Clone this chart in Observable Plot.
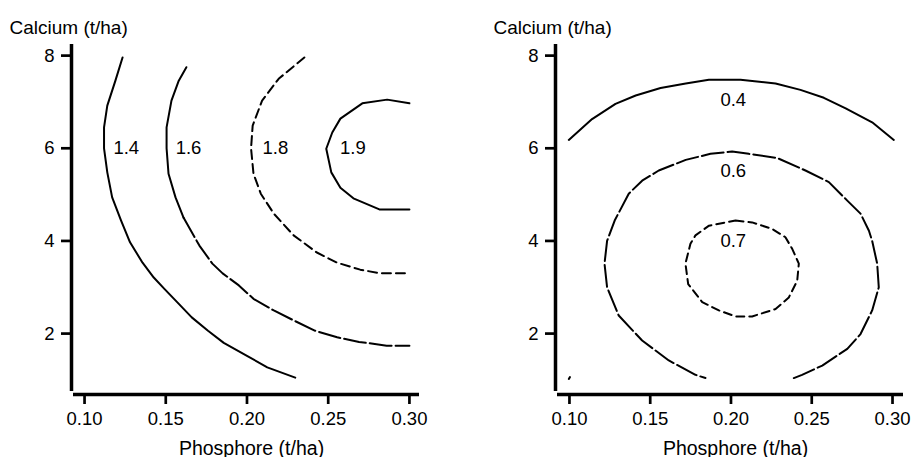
<!DOCTYPE html>
<html>
<head>
<meta charset="utf-8">
<script src="https://cdn.jsdelivr.net/npm/d3@7"></script>
<script src="https://cdn.jsdelivr.net/npm/@observablehq/plot@0.6"></script>
<style>
  html, body { margin: 0; padding: 0; background: #fff; }
  #wrap { display: flex; width: 911px; height: 457px; }
  #wrap svg { display: block; }
</style>
</head>
<body>
<div id="wrap"></div>
<script>
// ---- tick labels / axis titles ----
const xTicks = [0.10, 0.15, 0.20, 0.25, 0.30];
const yTicks = [2, 4, 6, 8];
const xTitle = "Phosphore (t/ha)";
const yTitle = "Calcium (t/ha)";

// ---- left panel contours: [phosphore, calcium] ----
const left14 = [[0.1234,7.96],[0.119,7.46],[0.114,6.92],[0.112,6.45],[0.112,6.0],[0.114,5.48],[0.117,4.94],[0.1225,4.44],[0.128,3.97],[0.1357,3.53],[0.1426,3.21],[0.149,2.97],[0.157,2.68],[0.166,2.35],[0.176,2.06],[0.1857,1.8],[0.200,1.52],[0.2125,1.27],[0.2297,1.05]];
const left16a = [[0.1627,7.75],[0.158,7.46],[0.1535,7.03],[0.1505,6.45],[0.1505,6.0],[0.1517,5.45],[0.156,4.94],[0.161,4.5]];
const left16b = [[0.161,4.5],[0.1707,3.9],[0.1787,3.51],[0.185,3.3],[0.195,3.04],[0.204,2.75],[0.2165,2.5],[0.229,2.28],[0.242,2.06],[0.2555,1.92],[0.269,1.82],[0.286,1.74],[0.300,1.74]];
const left18 = [[0.2353,7.96],[0.2195,7.5],[0.2093,7.03],[0.2035,6.49],[0.2025,6.0],[0.204,5.45],[0.2085,5.02],[0.2165,4.59],[0.2287,4.12],[0.243,3.75],[0.2555,3.53],[0.2697,3.38],[0.282,3.3],[0.300,3.3]];
const left19 = [[0.300,6.97],[0.2863,7.05],[0.271,6.97],[0.2575,6.64],[0.2525,6.34],[0.2488,5.99],[0.2519,5.48],[0.2575,5.15],[0.2655,4.92],[0.2815,4.68],[0.300,4.68]];
const leftLabels = ["1.4", "1.6", "1.8", "1.9"];
const leftLabelX = [0.1257, 0.164, 0.2175, 0.2652];
const leftLabelY = [6.0, 6.0, 6.0, 6.0];

// ---- right panel contours ----
const right04 = [[0.0996,6.18],[0.114,6.63],[0.1285,6.96],[0.141,7.14],[0.1564,7.3],[0.172,7.4],[0.1863,7.48],[0.2059,7.48],[0.2276,7.4],[0.243,7.26],[0.2575,7.09],[0.271,6.86],[0.2874,6.56],[0.3008,6.18]];
const right06 = [[0.2389,1.04],[0.244,1.11],[0.2565,1.31],[0.272,1.67],[0.2802,1.99],[0.2874,2.5],[0.2915,3.0],[0.2905,3.51],[0.2874,4.0],[0.2854,4.22],[0.2802,4.59],[0.272,4.87],[0.2606,5.27],[0.2461,5.52],[0.2286,5.79],[0.211,5.88],[0.2007,5.93],[0.1873,5.88],[0.172,5.75],[0.1553,5.52],[0.145,5.30],[0.1367,5.02],[0.128,4.44],[0.1233,4.0],[0.1217,3.51],[0.1233,3.0],[0.1305,2.39],[0.145,1.85],[0.1615,1.42],[0.178,1.11],[0.1842,1.04]];
const right06corner = [[0.0996,1.02],[0.1003,1.06]];
const right07 = [[0.2028,4.44],[0.2131,4.40],[0.2255,4.26],[0.2337,4.08],[0.2379,3.83],[0.242,3.51],[0.241,3.14],[0.2358,2.78],[0.2276,2.53],[0.2131,2.37],[0.2028,2.37],[0.1925,2.5],[0.1822,2.68],[0.1735,3.07],[0.1718,3.51],[0.1749,3.94],[0.178,4.12],[0.1864,4.33],[0.2028,4.44]];
const rightLabels = ["0.4", "0.6", "0.7"];
const rightLabelX = [0.2014, 0.2014, 0.2014];
const rightLabelY = [7.05, 5.51, 3.99];

const yDomain = [0.75, 8.24];
const FONT = "'Liberation Sans', Arial, Helvetica, sans-serif";

function panel({width, marginLeft, marginRight, xDomain, lines, labels, lx, ly}) {
  const idx = labels.map((_, i) => i);
  return Plot.plot({
    width, height: 457,
    marginLeft, marginRight, marginTop: 44, marginBottom: 66,
    x: {domain: xDomain},
    y: {domain: yDomain},
    style: {fontFamily: FONT, fontSize: "18.5px", color: "#000", background: "#fff", overflow: "visible"},
    marks: [
      Plot.axisX({ticks: xTicks, tickFormat: d3.format(".2f"), tickSize: 10, tickPadding: 7, dy: 3, strokeWidth: 2.7, label: null, fontSize: 18.5}),
      Plot.axisY({ticks: yTicks, tickSize: 10, tickPadding: 7, dx: -2, strokeWidth: 2.7, label: null, fontSize: 18.5}),
      Plot.ruleY([yDomain[0]], {x1: () => xDomain[0], x2: () => xDomain[1], dy: 3, strokeWidth: 3.5}),
      Plot.ruleX([xDomain[0]], {y1: () => yDomain[0], y2: () => yDomain[1], dx: -2, strokeWidth: 3.5}),
      ...lines.map(([pts, dash]) => Plot.line(pts, {x: d => d[0], y: d => d[1], stroke: "#000", strokeWidth: 2, strokeDasharray: dash, strokeLinejoin: "round"})),
      Plot.text(idx, {x: i => lx[i], y: i => ly[i], text: i => labels[i], fontSize: 18.5, fill: "#000"}),
      Plot.text([yTitle], {text: d => d, frameAnchor: "top-left", textAnchor: "start", lineAnchor: "bottom", dx: -64, dy: -11, fontSize: 19}),
      Plot.text([xTitle], {text: d => d, frameAnchor: "bottom", lineAnchor: "bottom", dx: 5, dy: 63, fontSize: 19.5})
    ]
  });
}

const wrap = document.getElementById("wrap");
wrap.append(panel({
  width: 455, marginLeft: 73, marginRight: 36, xDomain: [0.0932, 0.3062],
  lines: [[left14, null], [left16a, null], [left16b, "22,4"], [left18, "9,5"], [left19, null]],
  labels: leftLabels, lx: leftLabelX, ly: leftLabelY
}));
wrap.append(panel({
  width: 456, marginLeft: 102, marginRight: 8, xDomain: [0.0926, 0.3068],
  lines: [[right04, null], [right06, "22,4"], [right06corner, null], [right07, "8,5"]],
  labels: rightLabels, lx: rightLabelX, ly: rightLabelY
}));
</script>
</body>
</html>
